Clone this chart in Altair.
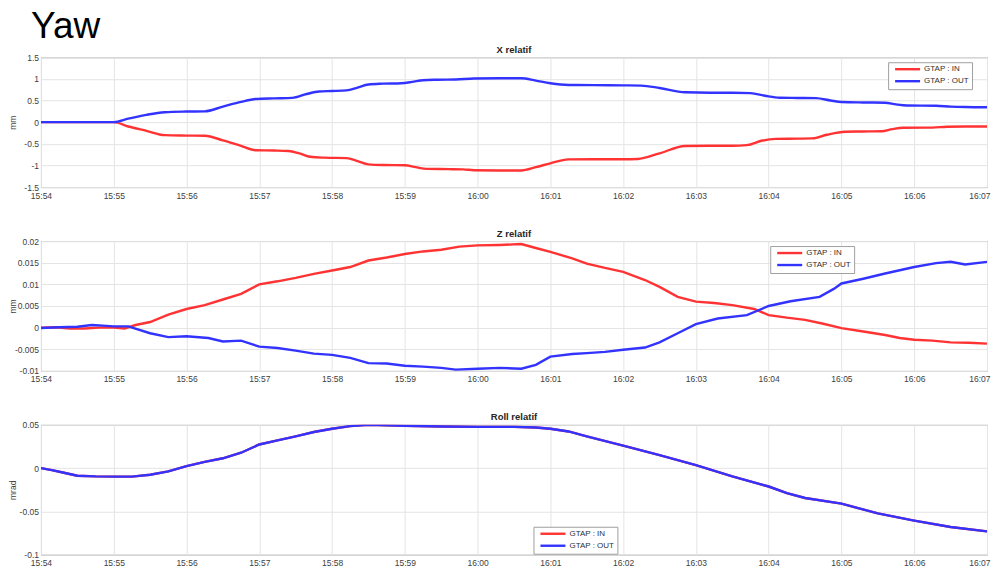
import json
import altair as alt
import pandas as pd

TICK_LABELS = ["15:54", "15:55", "15:56", "15:57", "15:58", "15:59", "16:00",
               "16:01", "16:02", "16:03", "16:04", "16:05", "16:06", "16:07"]
SERIES = ["GTAP : IN", "GTAP : OUT"]
COLORS = ["#ff3333", "#3333ff"]

# time in minutes after 15:54
x_in_t = [0, 1.0, 1.2, 1.45, 1.7, 2.0, 2.25, 2.5, 2.75, 2.95, 3.2, 3.4, 3.55, 3.7, 3.9, 4.2, 4.35, 4.5,
          4.7, 5.0, 5.15, 5.3, 5.6, 5.8, 5.95, 6.3, 6.6, 6.8, 7.0, 7.25, 7.6, 8.0, 8.2, 8.5, 8.85,
          9.2, 9.5, 9.7, 9.9, 10.1, 10.4, 10.6, 10.8, 11.05, 11.3, 11.55, 11.7, 11.85, 12.25, 12.45,
          12.7, 13.0]
x_in_v = [0, 0.0, -0.1, -0.2, -0.3, -0.31, -0.315, -0.42, -0.55, -0.65, -0.655, -0.665, -0.72, -0.8,
          -0.82, -0.83, -0.9, -0.975, -0.99, -0.995, -1.04, -1.08, -1.085, -1.09, -1.11, -1.115,
          -1.115, -1.04, -0.95, -0.86, -0.855, -0.855, -0.85, -0.72, -0.55, -0.545, -0.545, -0.53,
          -0.43, -0.385, -0.38, -0.375, -0.29, -0.22, -0.215, -0.21, -0.16, -0.13, -0.125, -0.105,
          -0.1, -0.1]
x_out_t = [0, 1.0, 1.2, 1.45, 1.7, 2.0, 2.25, 2.5, 2.75, 2.95, 3.2, 3.45, 3.65, 3.82, 4.0, 4.2, 4.35,
           4.5, 4.7, 4.95, 5.1, 5.25, 5.45, 5.7, 5.95, 6.3, 6.6, 6.8, 7.0, 7.25, 7.6, 8.0, 8.25, 8.5,
           8.85, 9.2, 9.5, 9.75, 9.95, 10.15, 10.4, 10.65, 10.85, 11.0, 11.3, 11.6, 11.75, 11.9,
           12.3, 12.5, 12.7, 13.0]
x_out_v = [0, 0.0, 0.08, 0.17, 0.23, 0.245, 0.25, 0.36, 0.47, 0.535, 0.55, 0.56, 0.65, 0.71, 0.72,
           0.735, 0.8, 0.87, 0.89, 0.9, 0.93, 0.97, 0.98, 0.985, 1.01, 1.015, 1.015, 0.96, 0.9,
           0.86, 0.855, 0.85, 0.845, 0.79, 0.69, 0.68, 0.68, 0.67, 0.61, 0.565, 0.56, 0.555, 0.5,
           0.465, 0.455, 0.45, 0.41, 0.385, 0.38, 0.36, 0.35, 0.345]

z_in_t = [0, 0.2, 0.4, 0.6, 0.8, 1.0, 1.15, 1.3, 1.5, 1.75, 2.0, 2.25, 2.5, 2.75, 3.0, 3.25, 3.5,
          3.75, 4.0, 4.25, 4.5, 4.75, 5.0, 5.25, 5.5, 5.75, 6.0, 6.3, 6.6, 6.8, 7.0, 7.3, 7.5, 7.75,
          8.0, 8.3, 8.5, 8.75, 9.0, 9.25, 9.5, 9.8, 10.0, 10.25, 10.5, 10.75, 11.0, 11.3, 11.6,
          11.8, 12.0, 12.25, 12.5, 12.75, 13.0]
z_in_v = [0.0, 0.0001, -0.0002, -0.0002, 0.0, 0.0, -0.0002, 0.0006, 0.0013, 0.003, 0.0043, 0.0052,
          0.0065, 0.0078, 0.01, 0.0107, 0.0115, 0.0124, 0.0132, 0.014, 0.0155, 0.0162, 0.017,
          0.0176, 0.018, 0.0187, 0.019, 0.0191, 0.0193, 0.0184, 0.0175, 0.016, 0.0148, 0.0138,
          0.0129, 0.011, 0.0094, 0.0071, 0.006, 0.0057, 0.0052, 0.0043, 0.0029, 0.0023, 0.0018,
          0.0009, -0.0001, -0.0009, -0.0017, -0.0024, -0.0028, -0.003, -0.0034, -0.0035, -0.0037]
z_out_t = [0, 0.25, 0.5, 0.7, 0.9, 1.0, 1.2, 1.5, 1.75, 2.0, 2.3, 2.5, 2.75, 3.0, 3.25, 3.5, 3.75,
           4.0, 4.25, 4.5, 4.75, 5.0, 5.25, 5.5, 5.7, 6.0, 6.3, 6.6, 6.8, 7.0, 7.3, 7.5, 7.75, 8.0,
           8.3, 8.5, 8.75, 9.0, 9.3, 9.7, 10.0, 10.3, 10.7, 10.9, 11.0, 11.3, 11.6, 12.0, 12.3,
           12.5, 12.7, 13.0]
z_out_v = [-0.0001, 0.0001, 0.0002, 0.0006, 0.0004, 0.0003, 0.0003, -0.0013, -0.0022, -0.002,
           -0.0024, -0.0032, -0.003, -0.0044, -0.0047, -0.0053, -0.006, -0.0063, -0.007, -0.0082,
           -0.0083, -0.0088, -0.009, -0.0093, -0.0097, -0.0095, -0.0093, -0.0095, -0.0086,
           -0.0067, -0.0061, -0.0059, -0.0056, -0.0051, -0.0046, -0.0034, -0.0013, 0.0008, 0.0021,
           0.0029, 0.005, 0.0061, 0.0071, 0.009, 0.0102, 0.0113, 0.0125, 0.014, 0.0149, 0.0152,
           0.0146, 0.0152]

roll_t = [0, 0.15, 0.3, 0.5, 0.75, 1.0, 1.25, 1.5, 1.75, 2.0, 2.25, 2.5, 2.75, 3.0, 3.25, 3.5,
          3.75, 4.0, 4.25, 4.5, 4.75, 5.0, 5.5, 6.0, 6.5, 6.8, 7.0, 7.25, 7.5, 8.0, 8.5, 9.0, 9.5,
          10.0, 10.25, 10.5, 11.0, 11.5, 12.0, 12.5, 13.0]
roll_v = [0.0, -0.0023, -0.005, -0.0087, -0.0095, -0.0098, -0.0098, -0.0076, -0.0038, 0.0023,
          0.0072, 0.0114, 0.0178, 0.0273, 0.032, 0.0367, 0.0417, 0.0455, 0.0485, 0.05, 0.0496,
          0.049, 0.0481, 0.0477, 0.0477, 0.047, 0.0455, 0.0424, 0.0367, 0.026, 0.015, 0.0034,
          -0.0095, -0.0212, -0.0288, -0.0345, -0.041, -0.0523, -0.0606, -0.068, -0.073]

X_LABEL_EXPR = json.dumps(TICK_LABELS) + "[round(datum.value)]"
LAST = len(TICK_LABELS) - 1


def frame(t_in, v_in, t_out, v_out):
    a = pd.DataFrame({"t": t_in, "v": v_in, "series": SERIES[0], "k": 0})
    b = pd.DataFrame({"t": t_out, "v": v_out, "series": SERIES[1], "k": 1})
    return pd.concat([a, b], ignore_index=True)


def panel(title, ytitle, df, ydomain, yvalues, lx, ly, interp):
    return alt.Chart(df).mark_line(strokeWidth=2.4, interpolate=interp, clip=True).encode(
        x=alt.X("t:Q", scale=alt.Scale(domain=[0, LAST], nice=False, zero=False),
                axis=alt.Axis(values=list(range(LAST + 1)), labelExpr=X_LABEL_EXPR, title=None,
                              labelAlign=alt.condition(f"datum.value >= {LAST}",
                                                       alt.value("right"), alt.value("center")),
                              labelOffset=alt.condition(f"datum.value >= {LAST}",
                                                        alt.value(3), alt.value(0)))),
        y=alt.Y("v:Q", scale=alt.Scale(domain=ydomain, nice=False, zero=False),
                axis=alt.Axis(values=yvalues, labelExpr="'' + datum.value", title=ytitle)),
        color=alt.Color("series:N", scale=alt.Scale(domain=SERIES, range=COLORS),
                        legend=alt.Legend(orient="none", legendX=lx, legendY=ly, title=None)),
        detail="k:N",
    ).properties(width=947, height=130,
                 title=alt.TitleParams(title, frame="group", offset=-1))


p1 = panel("X relatif", "mm", frame(x_in_t, x_in_v, x_out_t, x_out_v), [-1.5, 1.5],
           [-1.5, -1, -0.5, 0, 0.5, 1, 1.5], 848, 5, "monotone")
p2 = panel("Z relatif", "mm", frame(z_in_t, z_in_v, z_out_t, z_out_v), [-0.01, 0.02],
           [-0.01, -0.005, 0, 0.005, 0.01, 0.015, 0.02], 730, 5, "linear")
p3 = panel("Roll relatif", "mrad", frame(roll_t, roll_v, roll_t, roll_v), [-0.1, 0.05],
           [-0.1, -0.05, 0, 0.05], 493, 102, "linear")

chart = alt.vconcat(p1, p2, p3, spacing=28).resolve_scale(color="independent").properties(
    title=alt.TitleParams("Yaw", fontSize=37, fontWeight="normal", anchor="start",
                          color="#000000", font="Liberation Sans", dx=23, offset=-2),
    padding={"left": 0, "top": 0, "right": 0, "bottom": 0},
).configure_view(stroke="#8c8c8c", strokeWidth=1).configure_axis(
    grid=True, gridColor="#e4e4e4", gridWidth=1, domain=False, ticks=False,
    labelFont="Liberation Sans", labelFontSize=8.5, labelColor="#404040",
    titleFont="Liberation Sans", titleFontSize=8.5, titleFontWeight="normal", titleColor="#404040",
).configure_axisY(labelPadding=2.5, minExtent=23.5, maxExtent=23.5, titlePadding=0).configure_axisX(
    labelPadding=4, labelFlush=False
).configure_title(
    font="Liberation Sans", fontSize=9.5, fontWeight="bold", color="#262626"
).configure_legend(
    symbolType="M0,0H10", symbolSize=25, symbolStrokeWidth=2.4, labelFont="Liberation Sans",
    labelFontSize=8, labelColor="#303030", fillColor="#ffffff", strokeColor="#a0a0a0",
    padding=3, rowPadding=2, labelOffset=25, cornerRadius=0
)

chart.save("out.html", embed_options={"renderer": "svg", "actions": False})
